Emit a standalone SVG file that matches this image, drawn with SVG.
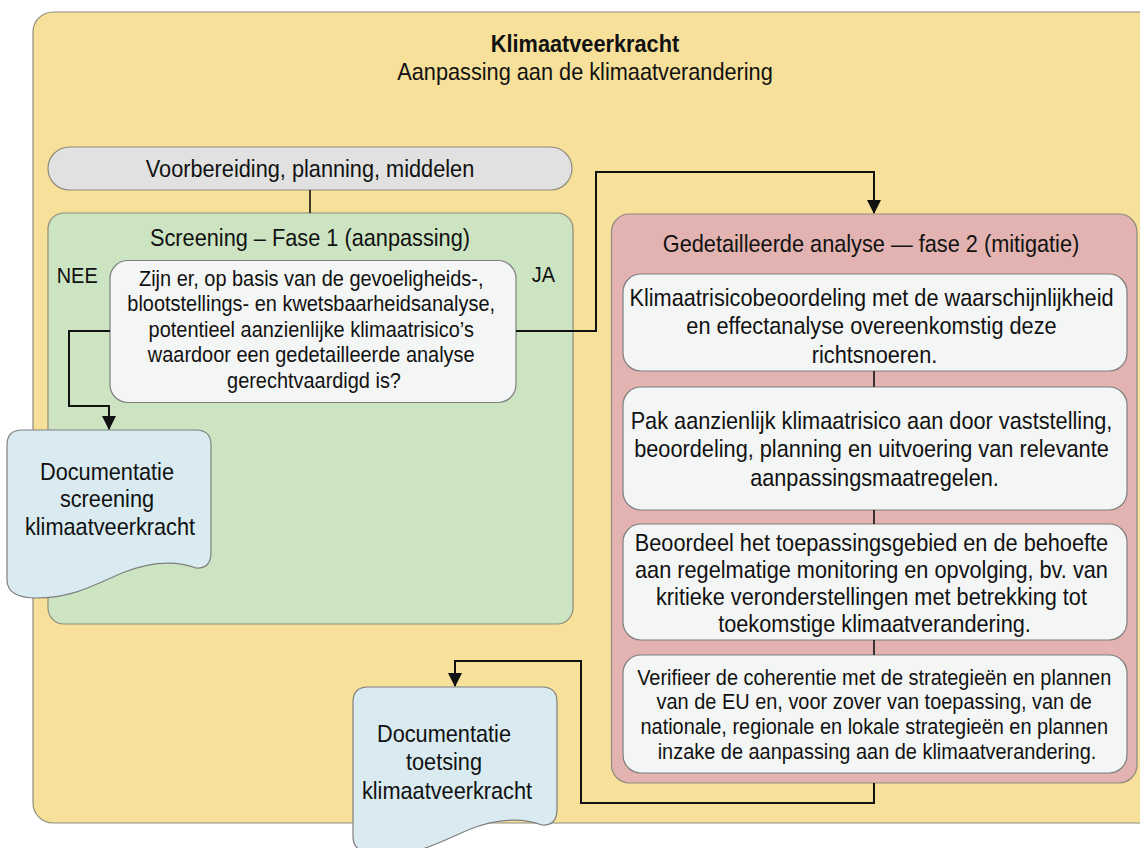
<svg xmlns="http://www.w3.org/2000/svg" xmlns:xlink="http://www.w3.org/1999/xlink" width="1140" height="848" viewBox="0 0 1140 848">
  <style>
    text { font-family: "Liberation Sans", Arial, sans-serif; fill: #111; }
    .t24 { font-size: 24px; }
    .t22 { font-size: 22px; }
    .b { font-weight: bold; }
    .mid { text-anchor: middle; }
    .frame { fill: #F7E09A; stroke: #8E8B7E; stroke-width: 1.2; }
    .pill { fill: #E1E1E1; stroke: #8E8B7E; stroke-width: 1.2; }
    .phase1 { fill: #CDE4C3; stroke: #8E8B7E; stroke-width: 1.2; }
    .phase2 { fill: #E2B3B0; stroke: #8E8B7E; stroke-width: 1.2; }
    .card { fill: #F4F6F5; stroke: #7E7E7E; stroke-width: 1.2; }
    .doc { fill: #D9EBF0; stroke: #7E7E7E; stroke-width: 1.2; }
    .wire { fill: none; stroke: #111; stroke-width: 2; }
    .wire-plain { fill: none; stroke: #111; stroke-width: 1.6; }
  </style>
  <defs>
    <marker id="arrow" markerUnits="userSpaceOnUse" markerWidth="14" markerHeight="15" refX="13" refY="7" orient="auto">
      <path d="M0,0 L14,7 L0,14 Z" fill="#111"/>
    </marker>
    <!-- document shape with wavy lower edge, local origin at top-left -->
    <path id="docShape" d="M15,0 H189 Q204,0 204,15 V122 Q204,139 189,138 C170,131 145,131 115,143 C85,156 65,168 30,168 Q0,168 0,150 V15 Q0,0 15,0 Z"/>
  </defs>

  <!-- outer frame -->
  <g id="frame">
    <rect class="frame" x="33" y="12" width="1130" height="811" rx="20"/>
    <text class="t24 b mid" transform="translate(585,51.7) scale(0.906,1)">Klimaatveerkracht</text>
    <text class="t24 mid" transform="translate(585,80) scale(0.906,1)">Aanpassing aan de klimaatverandering</text>
  </g>

  <g id="prep">
    <rect class="pill" x="48" y="147" width="524" height="43" rx="21.5"/>
    <text class="t24 mid" transform="translate(310,176.5) scale(0.906,1)">Voorbereiding, planning, middelen</text>
  </g>

  <g id="screening">
    <rect class="phase1" x="48" y="213" width="525" height="411" rx="16"/>
    <text class="t24 mid" transform="translate(310,246) scale(0.906,1)">Screening – Fase 1 (aanpassing)</text>
    <text class="t22" transform="translate(56.7,282.7) scale(0.906,1)">NEE</text>
    <text class="t22" transform="translate(531.7,281.7) scale(0.906,1)">JA</text>
  </g>

  <g id="question">
    <rect class="card" x="110" y="260.5" width="406" height="142" rx="18"/>
    <text class="t22 mid" transform="translate(314,286) scale(0.906,1)">
      <tspan x="0" y="0">Zijn er, op basis van de gevoeligheids-,</tspan>
      <tspan x="0" y="25.5">blootstellings- en kwetsbaarheidsanalyse,</tspan>
      <tspan x="0" y="51">potentieel aanzienlijke klimaatrisico’s</tspan>
      <tspan x="0" y="76.5">waardoor een gedetailleerde analyse</tspan>
      <tspan x="0" y="102">gerechtvaardigd is?</tspan>
    </text>
  </g>

  <g id="doc-screening">
    <use xlink:href="#docShape" class="doc" transform="translate(7,430)"/>
    <text class="t24 mid" transform="translate(110,480) scale(0.906,1)">
      <tspan x="0" y="0">Documentatie</tspan>
      <tspan x="0" y="27.5">screening</tspan>
      <tspan x="0" y="55">klimaatveerkracht</tspan>
    </text>
  </g>

  <g id="analysis">
    <rect class="phase2" x="611.5" y="214" width="525.5" height="569" rx="18"/>
    <text class="t24 mid" transform="translate(871,251.7) scale(0.906,1)">Gedetailleerde analyse — fase 2 (mitigatie)</text>
  </g>

  <g id="step-risk">
    <rect class="card" x="623" y="274" width="504" height="97" rx="18"/>
    <text class="t24 mid" transform="translate(874.5,306) scale(0.906,1)">
      <tspan x="0" y="0">Klimaatrisicobeoordeling met de waarschijnlijkheid</tspan>
      <tspan x="0" y="28.5">en effectanalyse overeenkomstig deze</tspan>
      <tspan x="0" y="57">richtsnoeren.</tspan>
    </text>
  </g>

  <g id="step-measures">
    <rect class="card" x="623" y="387" width="504" height="123" rx="18"/>
    <text class="t24 mid" transform="translate(874.5,429) scale(0.906,1)">
      <tspan x="0" y="0">Pak aanzienlijk klimaatrisico aan door vaststelling,</tspan>
      <tspan x="0" y="28.5">beoordeling, planning en uitvoering van relevante</tspan>
      <tspan x="0" y="57">aanpassingsmaatregelen.</tspan>
    </text>
  </g>

  <g id="step-monitoring">
    <rect class="card" x="623" y="524" width="504" height="116" rx="18"/>
    <text class="t24 mid" transform="translate(874.5,551) scale(0.906,1)">
      <tspan x="0" y="0">Beoordeel het toepassingsgebied en de behoefte</tspan>
      <tspan x="0" y="27">aan regelmatige monitoring en opvolging, bv. van</tspan>
      <tspan x="0" y="54">kritieke veronderstellingen met betrekking tot</tspan>
      <tspan x="0" y="81">toekomstige klimaatverandering.</tspan>
    </text>
  </g>

  <g id="step-coherence">
    <rect class="card" x="623" y="655" width="504" height="118" rx="18"/>
    <text class="t22 mid" transform="translate(877,685) scale(0.906,1)">
      <tspan x="0" y="0">Verifieer de coherentie met de strategieën en plannen</tspan>
      <tspan x="0" y="24.5">van de EU en, voor zover van toepassing, van de</tspan>
      <tspan x="0" y="49">nationale, regionale en lokale strategieën en plannen</tspan>
      <tspan x="0" y="74">inzake de aanpassing aan de klimaatverandering.</tspan>
    </text>
  </g>

  <g id="doc-review">
    <use xlink:href="#docShape" class="doc" transform="translate(353,687)"/>
    <text class="t24 mid" transform="translate(447,741.7) scale(0.906,1)">
      <tspan x="0" y="0">Documentatie</tspan>
      <tspan x="0" y="28.5">toetsing</tspan>
      <tspan x="0" y="57.5">klimaatveerkracht</tspan>
    </text>
  </g>

  <!-- connectors, drawn above the containers they cross -->
  <g id="connectors">
    <line class="wire-plain" x1="310" y1="190" x2="310" y2="213"/>
    <path class="wire" d="M110,331 H69 V406 H109 V429" marker-end="url(#arrow)"/>
    <path class="wire" d="M516,331 H596 V172 H874 V213" marker-end="url(#arrow)"/>
    <line class="wire-plain" x1="874" y1="371" x2="874" y2="387"/>
    <line class="wire-plain" x1="874" y1="510" x2="874" y2="524"/>
    <line class="wire-plain" x1="874" y1="640" x2="874" y2="655"/>
    <path class="wire" d="M874,783 V803 H581 V661 H455 V686" marker-end="url(#arrow)"/>
  </g>
</svg>
